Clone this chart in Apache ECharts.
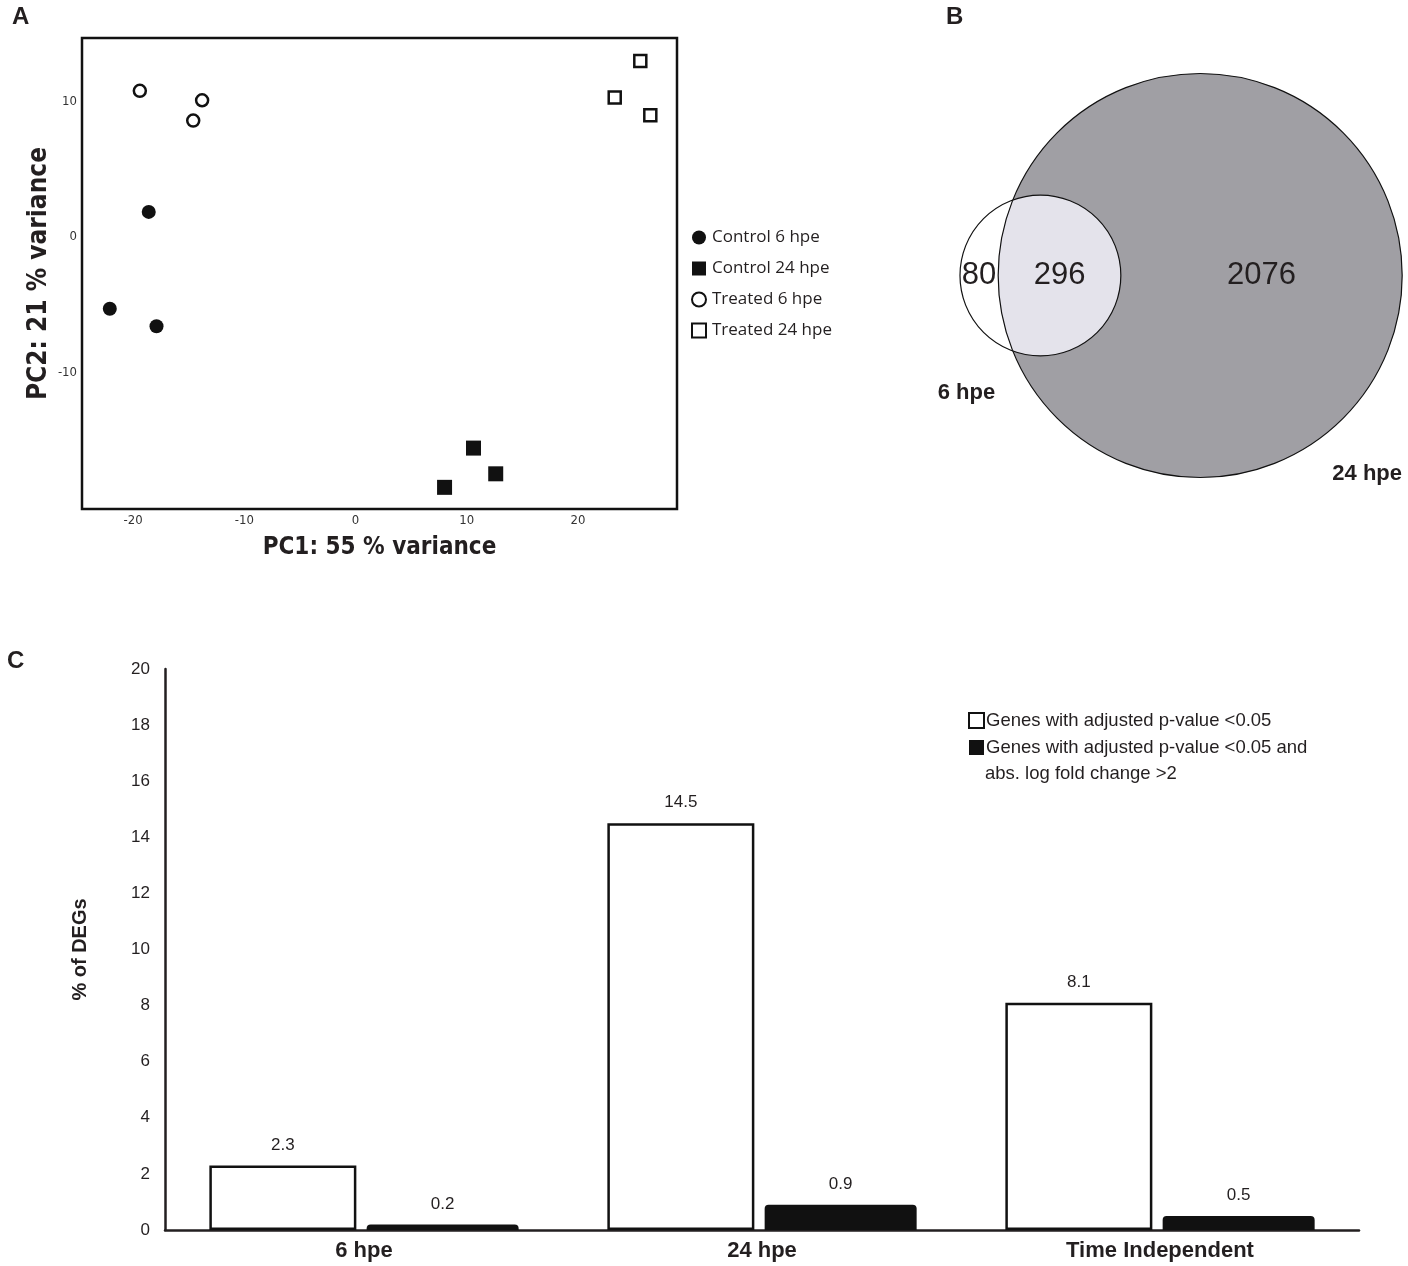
<!DOCTYPE html>
<html>
<head>
<meta charset="utf-8">
<script src="https://cdn.jsdelivr.net/npm/echarts@6/dist/echarts.min.js"></script>
<style>
html,body{margin:0;padding:0;background:#fff;}
#chart{width:1408px;height:1266px;}
</style>
</head>
<body>
<div id="chart"></div>
<script>
// ---- panel A : PCA ----
var ctrl6  = [[-18.6, 1.85], [-22.1, -5.3], [-17.9, -6.6]];
var ctrl24 = [[10.6, -15.6], [12.6, -17.5], [8.0, -18.5]];
var trt6   = [[-19.4, 10.8], [-13.8, 10.1], [-14.6, 8.6]];
var trt24  = [[25.6, 13.0], [23.3, 10.3], [26.5, 9.0]];
var pcaXTicks = [-20, -10, 0, 10, 20];
var pcaYTicks = [-10, 0, 10];

// ---- panel B : venn ----
var onlySix     = 80;
var shared      = 296;
var onlyTwenty4 = 2076;

// ---- panel C : bars ----
var categories = ['6 hpe', '24 hpe', 'Time Independent'];
var allDegs    = [2.3, 14.5, 8.1];
var bigDegs    = [0.2, 0.9, 0.5];

var NARROW = "'Liberation Sans Narrow','DejaVu Sans Condensed',sans-serif";
var ARIAL  = "'Liberation Sans',Arial,sans-serif";
var INK    = '#231f20';

// circle radii (area = count) and centre distance from overlap area
var totSix = onlySix + shared, totTwenty4 = shared + onlyTwenty4;
var r1 = Math.sqrt(totSix / Math.PI), r2 = Math.sqrt(totTwenty4 / Math.PI);
function overlap(d){
    var a1 = Math.acos((d*d + r1*r1 - r2*r2) / (2*d*r1));
    var a2 = Math.acos((d*d + r2*r2 - r1*r1) / (2*d*r2));
    var k  = Math.sqrt((-d+r1+r2)*(d+r1-r2)*(d-r1+r2)*(d+r1+r2));
    return r1*r1*a1 + r2*r2*a2 - 0.5*k;
}
var lo = r2 - r1 + 1e-6, hi = r2 + r1 - 1e-6;
for(var i=0;i<60;i++){
    var mid = (lo + hi) / 2;
    if(overlap(mid) > shared){ lo = mid; }else{ hi = mid; }
}
var dist = (lo + hi) / 2;

function renderVenn(params, api){
    var c1 = api.coord([0, 0]);
    var c2 = api.coord([dist, 0]);
    var p1 = api.size([r1, 0])[0];
    var p2 = api.size([r2, 0])[0];
    var d  = c2[0] - c1[0];
    var a  = (d*d + p1*p1 - p2*p2) / (2*d);
    var h  = Math.sqrt(p1*p1 - a*a);
    var ix = c1[0] + a;
    var top = [ix, c1[1] - h], bot = [ix, c1[1] + h];
    var lens = 'M' + top[0] + ' ' + top[1] +
        ' A' + p2 + ' ' + p2 + ' 0 0 0 ' + bot[0] + ' ' + bot[1] +
        ' A' + p1 + ' ' + p1 + ' 0 ' + (a < 0 ? 1 : 0) + ' 0 ' + top[0] + ' ' + top[1] + ' Z';
    var leftBig = c2[0] - p2, rightSmall = c1[0] + p1, leftSmall = c1[0] - p1, rightBig = c2[0] + p2;
    var numStyle = {fontSize: 31, fontFamily: ARIAL, fill: INK, align: 'center', verticalAlign: 'middle'};
    var setStyle = {fontSize: 22, fontWeight: 'bold', fontFamily: ARIAL, fill: INK, align: 'center', verticalAlign: 'middle'};
    return {
        type: 'group',
        children: [
            {type: 'circle', shape: {cx: c1[0], cy: c1[1], r: p1}, style: {fill: '#fff', stroke: 'none'}},
            {type: 'circle', shape: {cx: c2[0], cy: c2[1], r: p2}, style: {fill: '#a09fa4', stroke: 'none'}},
            {type: 'path', shape: {pathData: lens}, style: {fill: '#e4e3eb', stroke: 'none'}},
            {type: 'circle', shape: {cx: c1[0], cy: c1[1], r: p1}, style: {fill: 'none', stroke: '#111', lineWidth: 1.2}},
            {type: 'circle', shape: {cx: c2[0], cy: c2[1], r: p2}, style: {fill: 'none', stroke: '#111', lineWidth: 1.2}},
            {type: 'text', style: Object.assign({text: String(onlySix), x: (leftSmall + leftBig)/2, y: c1[1]}, numStyle)},
            {type: 'text', style: Object.assign({text: String(shared), x: (leftBig + rightSmall)/2, y: c1[1]}, numStyle)},
            {type: 'text', style: Object.assign({text: String(onlyTwenty4), x: (rightSmall + rightBig)/2, y: c1[1]}, numStyle)},
            {type: 'text', style: Object.assign({text: '6 hpe', x: c1[0] - 74, y: c1[1] + 117}, setStyle)},
            {type: 'text', style: Object.assign({text: '24 hpe', x: c2[0] + 167, y: c2[1] + 198}, setStyle)}
        ]
    };
}

var chart = echarts.init(document.getElementById('chart'));
var option = {
    backgroundColor: '#fff',
    animation: false,
    graphic: [
        {type: 'text', left: 12, top: 5, style: {text: 'A', fontSize: 24, fontWeight: 'bold', fontFamily: ARIAL, fill: INK}},
        {type: 'text', left: 946, top: 5, style: {text: 'B', fontSize: 24, fontWeight: 'bold', fontFamily: ARIAL, fill: INK}},
        {type: 'text', left: 7, top: 649, style: {text: 'C', fontSize: 24, fontWeight: 'bold', fontFamily: ARIAL, fill: INK}},
        {type: 'text', left: 985, top: 764, style: {text: 'abs. log fold change >2', fontSize: 18.5, fontFamily: ARIAL, fill: INK}}
    ],
    legend: [{
        data: ['Control 6 hpe', 'Control 24 hpe', 'Treated 6 hpe', 'Treated 24 hpe'],
        orient: 'vertical', left: 686, top: 224,
        itemWidth: 14, itemHeight: 14, itemGap: 14,
        textStyle: {fontSize: 17, fontFamily: "'Open Sans',sans-serif", color: INK, padding: [0, 0, 0, 1]}
    }, {
        data: ['Genes with adjusted p-value <0.05', 'Genes with adjusted p-value <0.05 and abs. log fold change >2'],
        orient: 'vertical', left: 963, top: 706,
        itemWidth: 15, itemHeight: 15, itemGap: 8, icon: 'rect',
        formatter: function(name){ return name.replace(' abs. log fold change >2', ''); },
        textStyle: {fontSize: 18.5, fontFamily: ARIAL, color: INK, padding: [0, 0, 0, -3]}
    }],
    grid: [
        {left: 82, top: 38, width: 595, height: 471, show: true, borderColor: '#111', borderWidth: 2.5, backgroundColor: '#fff'},
        {left: 900, top: 60, width: 508, height: 431},
        {left: 165, top: 669, width: 1194, height: 561}
    ],
    xAxis: [{
        gridIndex: 0, type: 'value', min: -24.6, max: 28.9,
        axisLine: {show: false}, axisTick: {show: false}, splitLine: {show: false},
        axisLabel: {customValues: pcaXTicks, fontSize: 13, fontFamily: NARROW, color: '#333', margin: 5},
        name: 'PC1: 55 % variance', nameLocation: 'middle', nameGap: 27,
        nameTextStyle: {fontSize: 24, fontWeight: 'bold', fontFamily: NARROW, color: INK}
    }, {
        gridIndex: 1, type: 'value', show: false, min: -19.1, max: 50.0
    }, {
        gridIndex: 2, type: 'category', data: categories,
        axisLine: {lineStyle: {color: INK, width: 2.5}}, axisTick: {show: false},
        axisLabel: {fontSize: 22, fontWeight: 'bold', fontFamily: ARIAL, color: INK, margin: 10}
    }],
    yAxis: [{
        gridIndex: 0, type: 'value', min: -20.1, max: 14.7,
        axisLine: {show: false}, axisTick: {show: false}, splitLine: {show: false},
        axisLabel: {customValues: pcaYTicks, fontSize: 13, fontFamily: NARROW, color: '#333', margin: 5},
        name: 'PC2: 21 % variance', nameLocation: 'middle', nameGap: 30,
        nameTextStyle: {fontSize: 26, fontWeight: 'bold', fontFamily: NARROW, color: INK}
    }, {
        gridIndex: 1, type: 'value', show: false, min: -29.3, max: 29.3
    }, {
        gridIndex: 2, type: 'value', min: 0, max: 20, interval: 2,
        axisLine: {show: true, lineStyle: {color: INK, width: 2.5}}, axisTick: {show: false}, splitLine: {show: false},
        axisLabel: {fontSize: 17, fontFamily: ARIAL, color: INK, margin: 15},
        name: '% of DEGs', nameLocation: 'middle', nameGap: 75,
        nameTextStyle: {fontSize: 20, fontWeight: 'bold', fontFamily: ARIAL, color: INK}
    }],
    series: [{
        name: 'Control 6 hpe', type: 'scatter', xAxisIndex: 0, yAxisIndex: 0,
        symbol: 'circle', symbolSize: 14, data: ctrl6,
        itemStyle: {color: '#111', opacity: 1}
    }, {
        name: 'Control 24 hpe', type: 'scatter', xAxisIndex: 0, yAxisIndex: 0,
        symbol: 'rect', symbolSize: 15, data: ctrl24,
        itemStyle: {color: '#111', opacity: 1}
    }, {
        name: 'Treated 6 hpe', type: 'scatter', xAxisIndex: 0, yAxisIndex: 0,
        symbol: 'circle', symbolSize: 12, data: trt6,
        itemStyle: {color: '#fff', borderColor: '#111', borderWidth: 2.5, opacity: 1}
    }, {
        name: 'Treated 24 hpe', type: 'scatter', xAxisIndex: 0, yAxisIndex: 0,
        symbol: 'rect', symbolSize: 12, data: trt24,
        itemStyle: {color: '#fff', borderColor: '#111', borderWidth: 2.5, opacity: 1}
    }, {
        type: 'custom', xAxisIndex: 1, yAxisIndex: 1,
        data: [[0, 0]], renderItem: renderVenn, silent: true
    }, {
        name: 'Genes with adjusted p-value <0.05', type: 'bar', xAxisIndex: 2, yAxisIndex: 2,
        data: allDegs, barWidth: 147, barGap: '7%',
        itemStyle: {color: '#fff', borderColor: '#111', borderWidth: 2.5},
        label: {show: true, position: 'top', distance: 12, fontSize: 17, fontFamily: ARIAL, color: INK}
    }, {
        name: 'Genes with adjusted p-value <0.05 and abs. log fold change >2', type: 'bar', xAxisIndex: 2, yAxisIndex: 2,
        data: bigDegs, barWidth: 152,
        itemStyle: {color: '#111', borderRadius: [4, 4, 0, 0]},
        label: {show: true, position: 'top', distance: 12, fontSize: 17, fontFamily: ARIAL, color: INK}
    }]
};
chart.setOption(option);
</script>
</body>
</html>
